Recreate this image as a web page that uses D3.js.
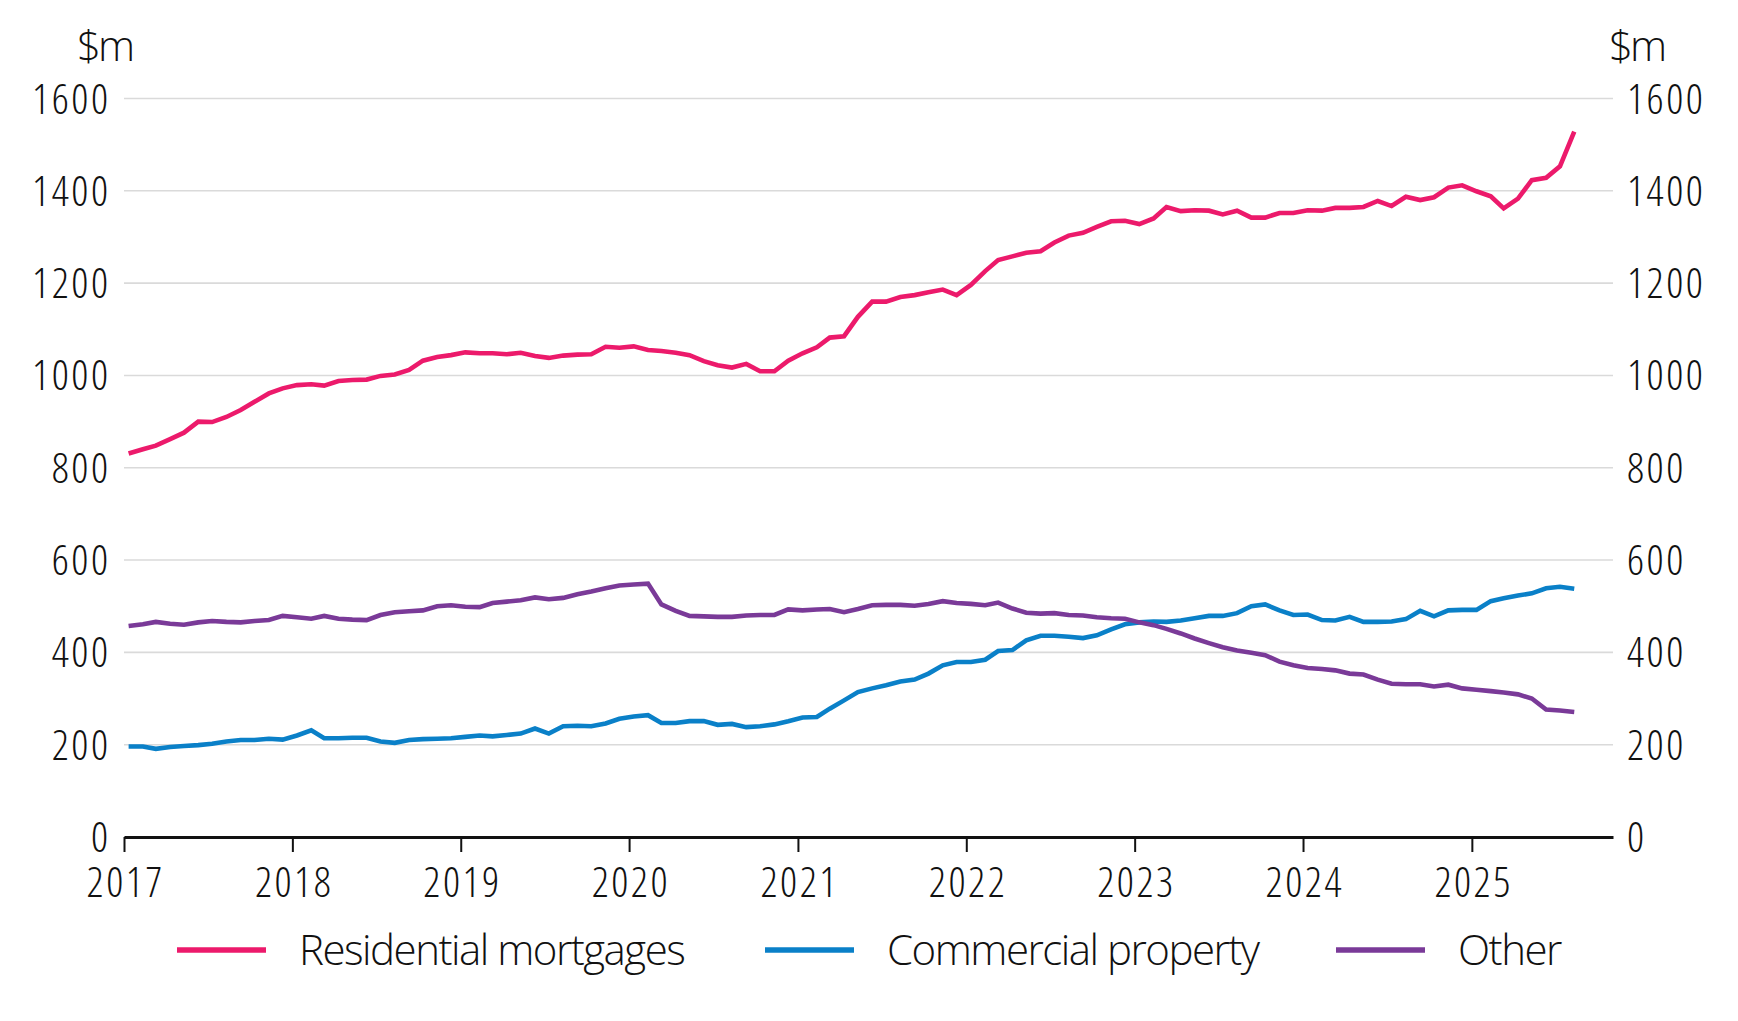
<!DOCTYPE html>
<html>
<head>
<meta charset="utf-8">
<script src="https://cdn.jsdelivr.net/npm/d3@7"></script>
<style>
  body { margin: 0; background: #fff; }
  text { font-family: "Open Sans", sans-serif; font-weight: 300; fill: #111; }
  .num { font-stretch: 75%; letter-spacing: 2.5px; }
</style>
</head>
<body>
<div id="chart"></div>
<script>
// monthly data, Jan 2017 onwards ($m)
var firstMonth = new Date(2017, 0, 1);

var residential = [
  831, 840, 848, 862, 876, 900, 899, 910, 925, 943,
  961, 972, 979, 981, 978, 988, 990, 991, 999, 1002,
  1012, 1032, 1040, 1044, 1050, 1048, 1048, 1046, 1049, 1042,
  1038, 1043, 1045, 1046, 1062, 1060, 1063, 1055, 1053, 1049,
  1044, 1031, 1022, 1017, 1025, 1009, 1009, 1032, 1048, 1061,
  1082, 1085, 1127, 1160, 1160, 1170, 1174, 1180, 1186, 1174,
  1196, 1226, 1250, 1258, 1266, 1269, 1288, 1303, 1309, 1322,
  1334, 1335, 1328, 1340, 1365, 1356, 1358, 1357, 1349, 1357,
  1342, 1342, 1352, 1352, 1358, 1357, 1363, 1363, 1365, 1378,
  1367, 1387, 1380, 1386, 1407, 1412, 1399, 1388, 1362, 1383,
  1423, 1428, 1453, 1528
];

var commercial = [
  196, 196, 191, 195, 197, 199, 202, 207, 210, 210,
  213, 211, 220, 231, 214, 214, 215, 215, 207, 204,
  210, 212, 213, 214, 217, 220, 218, 221, 224, 235,
  224, 240, 241, 240, 246, 256, 261, 264, 247, 247,
  251, 251, 243, 245, 238, 240, 244, 251, 259, 260,
  278, 296, 314, 322, 329, 337, 341, 354, 372, 379,
  379, 384, 403, 405, 426, 436, 436, 434, 431, 437,
  450, 461, 465, 467, 466, 469, 474, 479, 479, 485,
  500, 504, 491, 481, 482, 470, 469, 477, 466, 466,
  467, 472, 490, 478, 491, 492, 492, 511, 517, 523,
  528, 539, 542, 538
];

var other = [
  457, 461, 466, 462, 460, 465, 468, 466, 465, 468,
  470, 479, 476, 473, 479, 473, 471, 470, 481, 487,
  489, 491, 500, 502, 499, 498, 507, 510, 513, 519,
  515, 518, 526, 532, 539, 545, 547, 549, 504, 490,
  479, 478, 477, 477, 480, 481, 481, 493, 491, 493,
  494, 487, 494, 502, 503, 503, 501, 505, 511, 507,
  505, 502, 508, 495, 486, 484, 485, 481, 480, 476,
  474, 473, 465, 459, 451, 441, 430, 420, 411, 404,
  399, 394, 380, 372, 366, 364, 361, 354, 352, 341,
  332, 331, 331, 326, 330, 322, 319, 316, 313, 309,
  300, 276, 274, 271
];

var seriesNames = ["Residential mortgages", "Commercial property", "Other"];
var seriesColors = ["#ec1a6b", "#0a80c8", "#7a3a98"];
var yTicks = [0, 200, 400, 600, 800, 1000, 1200, 1400, 1600];
var yearTicks = [2017, 2018, 2019, 2020, 2021, 2022, 2023, 2024, 2025];

var svgWidth = 1738;
var svgHeight = 1021;

var svg = d3.select("#chart")
  .append("svg")
  .attr("width", svgWidth)
  .attr("height", svgHeight);

svg.append("rect").attr("width", svgWidth).attr("height", svgHeight).attr("fill", "#fff");

// scales
var x = d3.scaleTime()
  .domain([new Date(2017, 0, 1), new Date(2025, 10, 3)])
  .range([124, 1613]);

var y = d3.scaleLinear()
  .domain([0, 1600])
  .range([837, 98.5]);

// gridlines
svg.append("g")
  .selectAll("line")
  .data(yTicks.filter(d => d > 0))
  .enter()
  .append("line")
  .attr("x1", x.range()[0])
  .attr("x2", x.range()[1])
  .attr("y1", d => y(d))
  .attr("y2", d => y(d))
  .attr("stroke", "#dadada")
  .attr("stroke-width", 1.6);

// y labels, both sides
svg.append("g")
  .selectAll("text")
  .data(yTicks)
  .enter()
  .append("text")
  .attr("class", "num")
  .attr("x", 110.5)
  .attr("y", d => y(d) + 15)
  .attr("text-anchor", "end")
  .style("font-size", "42px")
  .text(d => d);

svg.append("g")
  .selectAll("text")
  .data(yTicks)
  .enter()
  .append("text")
  .attr("class", "num")
  .attr("x", 1627)
  .attr("y", d => y(d) + 15)
  .attr("text-anchor", "start")
  .style("font-size", "42px")
  .text(d => d);

svg.append("text").attr("x", 77).attr("y", 61).style("font-size", "42px").style("letter-spacing", "-3px").text("$m");
svg.append("text").attr("x", 1609).attr("y", 61).style("font-size", "42px").style("letter-spacing", "-3px").text("$m");

// x axis
var bottomAxis = d3.axisBottom(x)
  .tickValues(yearTicks.map(yr => new Date(yr, 0, 1)))
  .tickFormat(d3.timeFormat("%Y"))
  .tickSize(15)
  .tickSizeOuter(0)
  .tickPadding(15);

var xAxis = svg.append("g")
  .attr("transform", `translate(0, ${y(0)})`)
  .call(bottomAxis);

xAxis.select(".domain").attr("stroke", "#111").attr("stroke-width", 3);
xAxis.selectAll(".tick line").attr("stroke", "#111").attr("stroke-width", 2);
xAxis.selectAll(".tick text")
  .attr("class", "num")
  .attr("fill", "#111")
  .attr("dx", 1.25)
  .style("font-size", "42px")
  .style("font-family", "'Open Sans', sans-serif")
  .attr("dy", "0.71em");

// lines
var allSeries = [residential, commercial, other];

var line = d3.line()
  .x((d, i) => x(d3.timeDay.offset(d3.timeMonth.offset(firstMonth, i), 10)))
  .y(d => y(d));

svg.append("g")
  .selectAll("path")
  .data(allSeries)
  .enter()
  .append("path")
  .attr("d", d => line(d))
  .attr("fill", "none")
  .attr("stroke", (d, i) => seriesColors[i])
  .attr("stroke-width", 4.6)
  .attr("stroke-linejoin", "miter");

// legend
var legendX = [177, 765, 1336];
var legend = svg.append("g")
  .selectAll("g")
  .data(seriesNames)
  .enter()
  .append("g")
  .attr("transform", (d, i) => `translate(${legendX[i]}, 950)`);

legend.append("line")
  .attr("x1", 0)
  .attr("x2", 89)
  .attr("y1", 0)
  .attr("y2", 0)
  .attr("stroke", (d, i) => seriesColors[i])
  .attr("stroke-width", 5.5);

legend.append("text")
  .attr("x", 122)
  .attr("y", 15)
  .style("font-size", "42px")
  .style("letter-spacing", "-1.5px")
  .text(d => d);
</script>
</body>
</html>
